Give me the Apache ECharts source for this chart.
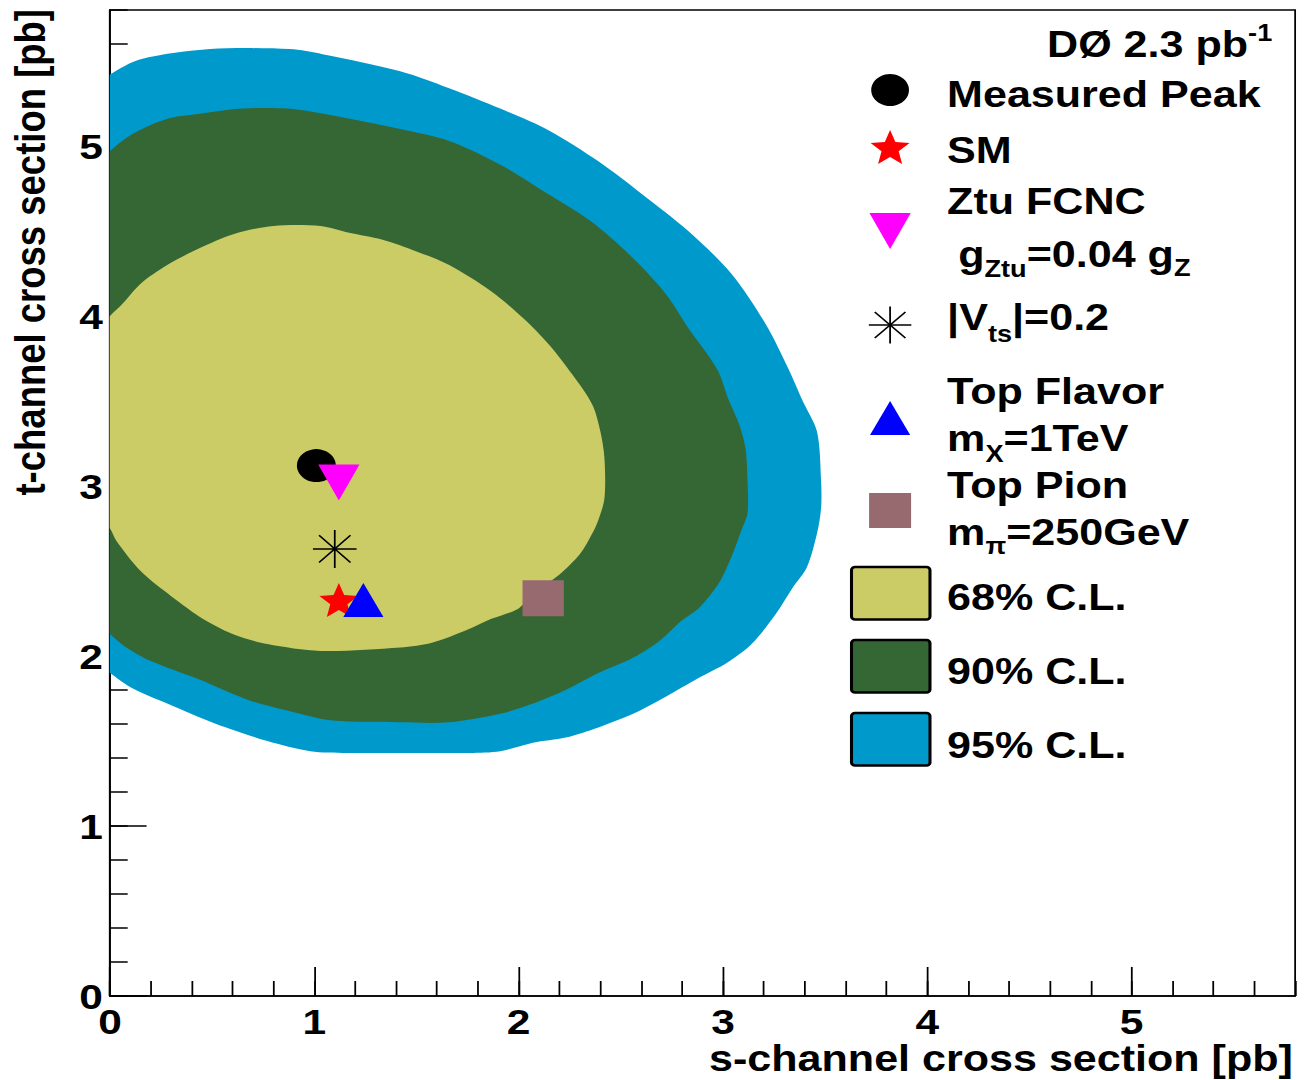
<!DOCTYPE html>
<html>
<head>
<meta charset="utf-8">
<script src="https://cdn.jsdelivr.net/npm/echarts@6/dist/echarts.min.js"></script>
<style>
  html, body { margin: 0; padding: 0; background: #fff; overflow: hidden; }
  /* the canvas is laid out narrow and widened, like the original plotting canvas */
  #chart { width: 1110px; height: 1080px; transform: scaleX(1.18018); transform-origin: 0 0; }
</style>
</head>
<body>
<div id="chart"></div>
<script>
// ---- axis ranges and tick steps ----
const sRange = [0, 5.8];
const tRange = [0, 5.8];
const majorStep = 1;
const minorStep = 0.2;

// ---- confidence-level contours, [s-channel, t-channel] in pb ----
// each outline runs clockwise from the t axis; the first and last points
// lie just left of the axis and are clipped away by the plot frame
const cl95 = [
  [-0.25, 5.22], [0, 5.42], [0.15, 5.51], [0.49, 5.57], [0.88, 5.57], [1.04, 5.54], [1.42, 5.44],
  [1.66, 5.34], [1.91, 5.22], [2.15, 5.09], [2.39, 4.91], [2.59, 4.73], [2.83, 4.50],
  [3.04, 4.25], [3.21, 3.95], [3.32, 3.69], [3.39, 3.50], [3.46, 3.32], [3.48, 3.03],
  [3.48, 2.87], [3.46, 2.72], [3.41, 2.52], [3.34, 2.40], [3.26, 2.25], [3.14, 2.07],
  [3.02, 1.96], [2.88, 1.87], [2.72, 1.76], [2.56, 1.66], [2.39, 1.58], [2.23, 1.52],
  [2.07, 1.49], [1.91, 1.44], [1.76, 1.43], [1.42, 1.43], [1.16, 1.43], [0.98, 1.44],
  [0.77, 1.50], [0.52, 1.60], [0.28, 1.72], [0.11, 1.81], [0, 1.90], [-0.25, 2.12]
];
const cl90 = [
  [-0.25, 4.70], [0, 4.97], [0.11, 5.07], [0.28, 5.16], [0.44, 5.19], [0.65, 5.22], [0.87, 5.22],
  [1.09, 5.18], [1.26, 5.14], [1.42, 5.10], [1.66, 5.03], [1.91, 4.89], [2.10, 4.75],
  [2.35, 4.56], [2.56, 4.34], [2.72, 4.13], [2.83, 3.93], [2.97, 3.69], [3.03, 3.50],
  [3.08, 3.36], [3.11, 3.22], [3.12, 3.03], [3.12, 2.84], [3.09, 2.74], [3.04, 2.58],
  [2.98, 2.43], [2.88, 2.28], [2.80, 2.21], [2.69, 2.09], [2.56, 1.99], [2.39, 1.90],
  [2.23, 1.80], [2.07, 1.72], [1.91, 1.66], [1.66, 1.61], [1.42, 1.61], [1.09, 1.62],
  [0.93, 1.66], [0.68, 1.74], [0.44, 1.86], [0.20, 1.97], [0.08, 2.05], [0, 2.13], [-0.25, 2.40]
];
const cl68 = [
  [-0.2, 3.72], [0, 4.00], [0.06, 4.07], [0.15, 4.19], [0.28, 4.30], [0.44, 4.40], [0.60, 4.48],
  [0.80, 4.53], [1.03, 4.53], [1.17, 4.49], [1.33, 4.45], [1.50, 4.38], [1.66, 4.30],
  [1.86, 4.15], [2.02, 3.99], [2.15, 3.83], [2.26, 3.66], [2.36, 3.48], [2.40, 3.32],
  [2.42, 3.16], [2.42, 2.93], [2.39, 2.80], [2.36, 2.72], [2.30, 2.60], [2.20, 2.48],
  [2.07, 2.37], [2.00, 2.28], [1.87, 2.22], [1.74, 2.15], [1.58, 2.08], [1.42, 2.05],
  [1.03, 2.03], [0.77, 2.07], [0.60, 2.13], [0.44, 2.23], [0.28, 2.37], [0.15, 2.50],
  [0.03, 2.68], [0, 2.75], [-0.2, 3.05]
];

// ---- model predictions, [s-channel, t-channel] in pb ----
const measuredPeak = [1.01, 3.12];
const smPoint = [1.12, 2.33];
const ztuFcnc = [1.12, 3.02];
const vts02 = [1.10, 2.63];
const topFlavor = [1.24, 2.33];
const topPion = [2.12, 2.34];

const clLabels = ['68% C.L.', '90% C.L.', '95% C.L.'];

// ---- colours ----
const C68 = '#cccc66';
const C90 = '#356734';
const C95 = '#0099cc';
const CPION = '#976a70';

const FONT = '"Liberation Sans", Arial, Helvetica, sans-serif';
const MAIN = 36.5;
const SUB = 23;

const measureCtx = document.createElement('canvas').getContext('2d');
function textWidth(str, size) {
  measureCtx.font = 'bold ' + size + 'px ' + FONT;
  return measureCtx.measureText(str).width;
}

// five-pointed star outline centred on the origin
function starPoints(R, r) {
  const pts = [];
  for (let i = 0; i < 10; i++) {
    const a = -Math.PI / 2 + i * Math.PI / 5;
    const rad = i % 2 ? r : R;
    pts.push([rad * Math.cos(a), rad * Math.sin(a)]);
  }
  return pts;
}
const STAR = starPoints(50, 22);
const starPath = 'path://' + STAR.map((p, i) => (i ? 'L' : 'M') + (p[0] + 50).toFixed(2) + ',' + (p[1] + 50).toFixed(2)).join(' ') + ' Z';
const asteriskPath = 'path://M0,50 L100,50 M50,0 L50,100 M14,14 L86,86 M86,14 L14,86';

function fitPoints(pts, cx, cy, w, h) {
  const xs = pts.map(p => p[0]), ys = pts.map(p => p[1]);
  const x0 = Math.min(...xs), x1 = Math.max(...xs), y0 = Math.min(...ys), y1 = Math.max(...ys);
  return pts.map(p => [cx - w / 2 + (p[0] - x0) / (x1 - x0) * w, cy - h / 2 + (p[1] - y0) / (y1 - y0) * h]);
}

function contourSeries(name, pts, color) {
  return {
    type: 'custom',
    name: name,
    coordinateSystem: 'cartesian2d',
    silent: true,
    clip: true,
    encode: { x: 0, y: 1 },
    data: pts,
    renderItem: function (params, api) {
      if (params.dataIndex !== 0) return null;
      return {
        type: 'polygon',
        shape: { points: pts.map(p => api.coord(p)), smooth: 0.3 },
        style: { fill: color, stroke: null }
      };
    }
  };
}

function markerSeries(name, point, symbol, size, itemStyle, rotate) {
  return {
    type: 'scatter',
    name: name,
    silent: true,
    data: [point],
    symbol: symbol,
    symbolSize: size,
    symbolRotate: rotate || 0,
    itemStyle: Object.assign({ opacity: 1 }, itemStyle)
  };
}

// ---- text helpers ----
function txt(str, x, y, size, opts) {
  opts = opts || {};
  return {
    type: 'text', x: x, y: y, rotation: opts.rotation || 0, silent: true,
    style: {
      text: str, fill: '#000', fontSize: size, fontWeight: 'bold', fontFamily: FONT,
      lineHeight: opts.lineHeight || Math.round(size * 0.75),
      align: opts.align || 'left', verticalAlign: 'middle',
      textAlign: opts.align || 'left', textVerticalAlign: 'middle'
    }
  };
}
function textLine(x, y, parts) {
  const els = [];
  let cx = x;
  parts.forEach(p => {
    const size = p.size || MAIN;
    els.push(txt(p.t, cx, y + (p.dy || 0), size));
    cx += textWidth(p.t, size);
  });
  return els;
}

const LX = 802.5;       // legend text column
const MX = 754.2;       // legend marker column
const graphics = [];

// experiment label, right-aligned
(function () {
  const w1 = textWidth('DØ 2.3 pb', MAIN), w2 = textWidth('-1', SUB);
  const x0 = 1078 - w1 - w2;
  textLine(x0, 44.5, [{ t: 'DØ 2.3 pb' }, { t: '-1', size: SUB, dy: -12 }]).forEach(e => graphics.push(e));
})();

graphics.push(txt('Measured Peak', LX, 94.5, MAIN));
graphics.push(txt('SM', LX, 150.5, MAIN));
graphics.push(txt('Ztu FCNC', LX, 201, MAIN));
textLine(811.9, 254.5, [
  { t: 'g' }, { t: 'Ztu', size: SUB, dy: 14.5 }, { t: '=0.04 g' }, { t: 'Z', size: SUB, dy: 13.5 }
]).forEach(e => graphics.push(e));
textLine(LX, 317, [{ t: '|V' }, { t: 'ts', size: SUB, dy: 17 }, { t: '|=0.2' }]).forEach(e => graphics.push(e));
graphics.push(txt('Top Flavor', LX, 391.5, MAIN));
textLine(LX, 438.5, [{ t: 'm' }, { t: 'X', size: SUB, dy: 15 }, { t: '=1TeV' }]).forEach(e => graphics.push(e));
graphics.push(txt('Top Pion', LX, 485, MAIN));
textLine(LX, 532.5, [{ t: 'm' }, { t: 'π', size: SUB, dy: 13 }, { t: '=250GeV' }]).forEach(e => graphics.push(e));

// legend markers
graphics.push({ type: 'circle', silent: true, shape: { cx: MX, cy: 90, r: 16 }, style: { fill: '#000' } });
graphics.push({ type: 'polygon', silent: true, shape: { points: fitPoints(STAR, MX, 147, 33, 34) }, style: { fill: '#ff0000' } });
graphics.push({ type: 'polygon', silent: true, shape: { points: [[MX - 17.5, 213], [MX + 17.5, 213], [MX, 249]] }, style: { fill: '#ff00ff' } });
[[-18, 0, 18, 0], [0, -18.5, 0, 18.5], [-13, -13, 13, 13], [13, -13, -13, 13]].forEach(l => {
  graphics.push({ type: 'line', silent: true, shape: { x1: MX + l[0], y1: 325 + l[1], x2: MX + l[2], y2: 325 + l[3] }, style: { stroke: '#000', lineWidth: 1.5 } });
});
graphics.push({ type: 'polygon', silent: true, shape: { points: [[MX, 401], [MX + 17, 435], [MX - 17, 435]] }, style: { fill: '#0000ff' } });
graphics.push({ type: 'rect', silent: true, shape: { x: MX - 17.8, y: 493, width: 35.6, height: 35 }, style: { fill: CPION } });

// confidence-level boxes
const boxY = [567, 640, 713];
const textY = [597.5, 671.5, 745.5];
const boxFill = [C68, C90, C95];
clLabels.forEach((lab, i) => {
  graphics.push({
    type: 'rect', silent: true,
    shape: { x: 721.5, y: boxY[i], width: 66.5, height: 52.5, r: 3 },
    style: { fill: boxFill[i], stroke: '#000', lineWidth: 2.6 }
  });
  graphics.push(txt(lab, LX, textY[i], MAIN));
});

// axis titles
graphics.push(txt('s-channel cross section [pb]', 1095.5, 1058.5, MAIN, { align: 'right', lineHeight: 26 }));
graphics.push(txt('t-channel cross section [pb]', 25.4, 9, MAIN, { align: 'right', rotation: Math.PI / 2, lineHeight: 26 }));

const axisLabelStyle = { fontSize: 36, fontWeight: 'bold', fontFamily: FONT, color: '#000' };
const black = { color: '#000', width: 1.5 };

const chart = echarts.init(document.getElementById('chart'), null, { renderer: 'svg' });
chart.setOption({
  animation: false,
  backgroundColor: '#fff',
  grid: {
    left: 93.2, right: 12.6, top: 10, bottom: 84,
    show: true, borderColor: '#000', borderWidth: 1.5, backgroundColor: 'transparent',
    containLabel: false, outerBoundsMode: 'none'
  },
  xAxis: [
    {
      type: 'value', position: 'bottom', min: sRange[0], max: sRange[1], interval: majorStep,
      axisLine: { show: true, onZero: false, lineStyle: black },
      axisTick: { show: true, inside: true, length: 29, lineStyle: black },
      minorTick: { show: false },
      splitLine: { show: false },
      axisLabel: Object.assign({ margin: 14, lineHeight: 22, showMaxLabel: false }, axisLabelStyle)
    },
    {
      type: 'value', position: 'bottom', min: sRange[0], max: sRange[1], interval: minorStep,
      axisLine: { show: false, onZero: false },
      axisTick: { show: true, inside: true, length: 15, lineStyle: black },
      splitLine: { show: false },
      axisLabel: { show: false }
    }
  ],
  yAxis: [
    {
      type: 'value', position: 'left', min: tRange[0], max: tRange[1], interval: majorStep,
      axisLine: { show: true, onZero: false, lineStyle: black },
      axisTick: { show: true, inside: true, length: 31, lineStyle: black },
      minorTick: { show: false },
      splitLine: { show: false },
      axisLabel: Object.assign({ margin: 6, lineHeight: 19, showMaxLabel: false, padding: [7, 0, 0, 0] }, axisLabelStyle)
    },
    {
      type: 'value', position: 'left', min: tRange[0], max: tRange[1], interval: minorStep,
      axisLine: { show: false, onZero: false },
      axisTick: { show: true, inside: true, length: 15, lineStyle: black },
      splitLine: { show: false },
      axisLabel: { show: false }
    }
  ],
  series: [
    contourSeries('95% C.L.', cl95, C95),
    contourSeries('90% C.L.', cl90, C90),
    contourSeries('68% C.L.', cl68, C68),
    markerSeries('Measured Peak', measuredPeak, 'circle', 33, { color: '#000' }),
    markerSeries('SM', smPoint, starPath, [33, 34], { color: '#ff0000' }),
    markerSeries('Ztu FCNC', ztuFcnc, 'triangle', [35, 36], { color: '#ff00ff' }, 180),
    markerSeries('|Vts|=0.2', vts02, asteriskPath, [37, 38], { color: 'rgba(0,0,0,0)', borderColor: '#000', borderWidth: 1.5 }),
    markerSeries('Top Flavor', topFlavor, 'triangle', [34, 34], { color: '#0000ff' }),
    markerSeries('Top Pion', topPion, 'rect', [35, 36], { color: CPION })
  ],
  graphic: { elements: graphics }
});
</script>
</body>
</html>
